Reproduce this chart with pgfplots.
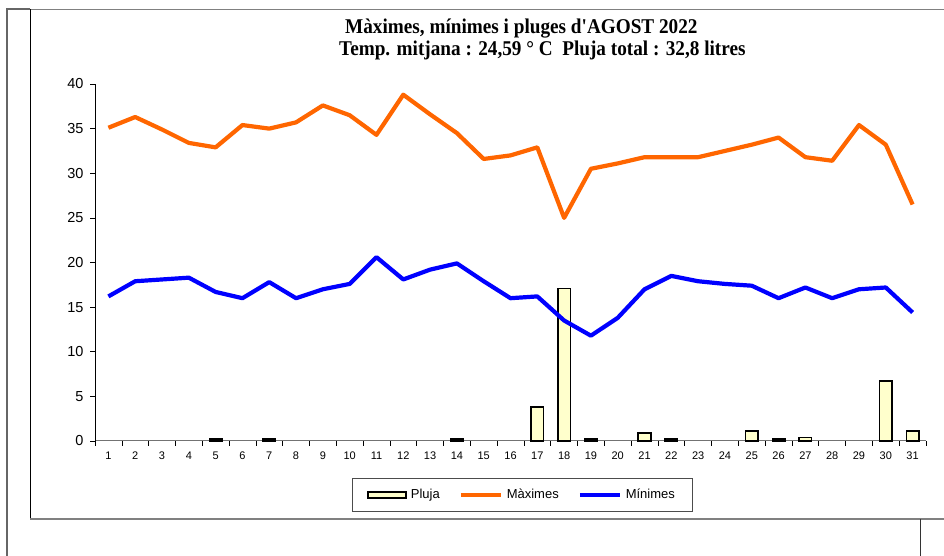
\documentclass[border=0pt]{standalone}
\usepackage{pgfplots}
\pgfplotsset{compat=1.18}
\usepackage{fontspec}
\setmainfont{Liberation Sans}
\newfontfamily\titlefont{Liberation Serif}
\definecolor{maxc}{HTML}{FF6600}
\definecolor{minc}{HTML}{0000FF}
\definecolor{rainc}{HTML}{FFFFCC}
\begin{document}
\begin{tikzpicture}
\useasboundingbox (0pt,0pt) rectangle (944pt,556pt);
% frames
\draw[gray!80!black, line width=1.3pt] (7pt,0pt) -- (7pt,547pt) -- (30pt,547pt);
\draw[gray, line width=1.3pt] (30pt,546.5pt) -- (944pt,546.5pt);
\draw[black, line width=1pt] (30pt,547pt) -- (30pt,37pt);
\draw[gray, line width=1.3pt] (30pt,37pt) -- (944pt,37pt);
\draw[black!80, line width=0.8pt] (920pt,37pt) -- (920pt,0pt);
% title
\node[anchor=base west, inner sep=0pt, font=\titlefont\bfseries\fontsize{21}{23}\selectfont] at (345pt,522pt) {\scalebox{0.915}[1]{Màximes, mínimes i pluges d'AGOST 2022}};
\node[anchor=base west, inner sep=0pt, font=\titlefont\bfseries\fontsize{21}{23}\selectfont] at (339pt,500pt) {\scalebox{0.915}[1]{Temp. mitjana : 24,59 ° C\ \ Pluja total : 32,8 litres}};
\begin{axis}[
  at={(95pt,115pt)}, anchor=south west,
  scale only axis, width=831pt, height=357pt,
  xmin=0.5, xmax=31.5, ymin=0, ymax=40,
  axis x line=bottom, axis y line=left,
  axis line style={-},
  x axis line style={draw=gray!90!black, line width=1pt},
  y axis line style={draw=black, line width=0.8pt},
  xtick={1,...,31},
  minor xtick={0.5,1.5,...,31.5},
  major x tick style={draw=none},
  minor x tick style={draw=black, line width=0.6pt},
  minor tick length=5pt,
  ytick={0,5,...,40},
  major tick length=5pt,
  y tick style={draw=black, line width=0.6pt},
  tick align=outside,
  /pgf/number format/assume math mode=true,
  yticklabel style={font=\fontsize{14.5}{15}\selectfont, xshift=-3pt},
  xticklabel style={font=\fontsize{11}{12}\selectfont, yshift=-2pt},
  clip=false,
  legend columns=3,
  legend style={at={(0.514,-0.151)}, anchor=center, draw=black!70, line width=0.8pt,
    font=\fontsize{13}{15}\selectfont, inner xsep=15pt, inner ysep=9pt,
    /tikz/every odd column/.append style={column sep=2pt},
    /tikz/every even column/.append style={column sep=17pt}},
]
\addplot[ybar, bar width=0.47, fill=rainc, draw=black, line width=1.5pt,
  legend image code/.code={\draw[black, fill=rainc, line width=1.5pt] (0pt,-3pt) rectangle (38pt,3pt);}]
  coordinates {(5,0.2) (7,0.2) (14,0.2) (17,3.8) (18,17.1) (19,0.2) (21,0.9) (22,0.2)
    (25,1.1) (26,0.2) (27,0.4) (30,6.7) (31,1.1)};
\addlegendentry{Pluja}
\addplot[color=maxc, line width=4.2pt, line join=round,
  legend image code/.code={\draw[maxc, line width=4pt] (0pt,0pt) -- (40pt,0pt);}]
  coordinates {(1,35.1) (2,36.3) (3,34.9) (4,33.4) (5,32.9) (6,35.4) (7,35.0) (8,35.7)
    (9,37.6) (10,36.5) (11,34.3) (12,38.8) (13,36.6) (14,34.5) (15,31.6) (16,32.0)
    (17,32.9) (18,25.0) (19,30.5) (20,31.1) (21,31.8) (22,31.8) (23,31.8) (24,32.5)
    (25,33.2) (26,34.0) (27,31.8) (28,31.4) (29,35.4) (30,33.2) (31,26.5)};
\addlegendentry{Màximes}
\addplot[color=minc, line width=4.2pt, line join=round,
  legend image code/.code={\draw[minc, line width=4pt] (0pt,0pt) -- (40pt,0pt);}]
  coordinates {(1,16.2) (2,17.9) (3,18.1) (4,18.3) (5,16.7) (6,16.0) (7,17.8) (8,16.0)
    (9,17.0) (10,17.6) (11,20.6) (12,18.1) (13,19.2) (14,19.9) (15,17.9) (16,16.0)
    (17,16.2) (18,13.5) (19,11.8) (20,13.8) (21,17.0) (22,18.5) (23,17.9) (24,17.6)
    (25,17.4) (26,16.0) (27,17.2) (28,16.0) (29,17.0) (30,17.2) (31,14.4)};
\addlegendentry{Mínimes}
\end{axis}
\end{tikzpicture}
\end{document}
